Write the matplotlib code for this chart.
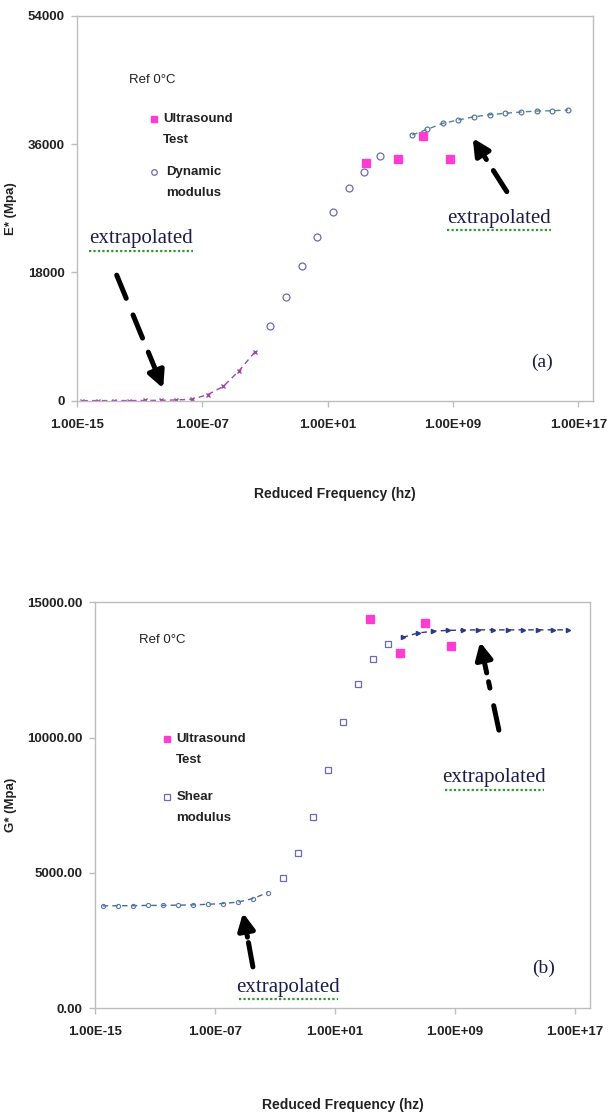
import numpy as np
import matplotlib
matplotlib.use("Agg")
import matplotlib.pyplot as plt
from matplotlib.lines import Line2D

# ── panel (a): E* master curve ───────────────────────────────────────────────
a_lo_freq = [2.2e-15, 2.2e-14, 2.2e-13, 2.2e-12, 2.2e-11, 2.2e-10, 2.2e-9,
             2.2e-8, 2.2e-7, 2.2e-6, 2.2e-5, 2.2e-4]
a_lo_E = [10, 10, 10, 20, 30, 50, 100, 200, 850, 2000, 4200, 6800]
a_dyn_freq = [2.2e-3, 2.2e-2, 0.22, 2.2, 22, 220, 2200, 22000]
a_dyn_E = [10480, 14590, 18890, 22920, 26510, 29790, 32120, 34320]
a_hi_freq = [2.5e6, 2.2e7, 2.2e8, 2.2e9, 2.2e10, 2.2e11, 2.2e12, 2.2e13,
             2.2e14, 2.2e15, 2.2e16]
a_hi_E = [37270, 38060, 38900, 39370, 39830, 40110, 40310, 40490, 40630,
          40670, 40770]
a_us_freq = [2.6e3, 2.9e5, 1.26e7, 6.3e8]
a_us_E = [33290, 33860, 37120, 33900]

# ── panel (b): G* master curve ───────────────────────────────────────────────
b_lo_freq = [3.2e-15, 3.2e-14, 3.2e-13, 3.2e-12, 3.2e-11, 3.2e-10, 3.2e-9,
             3.2e-8, 3.2e-7, 3.2e-6, 3.2e-5, 3.2e-4]
b_lo_G = [3780, 3790, 3790, 3800, 3800, 3810, 3820, 3840, 3870, 3920, 4050,
          4270]
b_sh_freq = [3.2e-3, 3.2e-2, 0.32, 3.2, 32, 320, 3200, 32000]
b_sh_G = [4810, 5740, 7050, 8810, 10570, 11980, 12910, 13440]
b_hi_freq = [3.2e5, 3.2e6, 3.2e7, 3.2e8, 3.2e9, 3.2e10, 3.2e11, 3.2e12,
             3.2e13, 3.2e14, 3.2e15, 3.2e16]
b_hi_G = [13700, 13860, 13930, 13960, 13970, 13980, 13980, 13980, 13980,
          13980, 13980, 13980]
b_us_freq = [2.1e3, 2.1e5, 1.0e7, 5.1e8]
b_us_G = [14370, 13130, 14220, 13400]

x_ticks = [1e-15, 1e-7, 1e1, 1e9, 1e17]
x_ticklabels = ["1.00E-15", "1.00E-07", "1.00E+01", "1.00E+09", "1.00E+17"]
a_yticks = [0, 18000, 36000, 54000]
a_yticklabels = ["0", "18000", "36000", "54000"]
b_yticks = [0, 5000, 10000, 15000]
b_yticklabels = ["0.00", "5000.00", "10000.00", "15000.00"]

PINK = "#FF3CD2"
LAV = "#6A6AB4"
FRAME = "#BDBDBD"
TXT = "#222222"
SANS = "Liberation Sans"
SERIF = "Liberation Serif"

fig = plt.figure(figsize=(6.11, 11.13), dpi=100, facecolor="white")
ax_a = fig.add_axes([0.126, 0.640, 0.8445, 0.3459])
ax_b = fig.add_axes([0.1555, 0.0941, 0.8101, 0.3648])


def style_axes(ax, xmax, yticks, yticklabels, ylim, ylabel, ylab_x, xlab_y):
    ax.set_xscale("log")
    ax.set_xlim(1e-15, xmax)
    ax.set_ylim(*ylim)
    ax.set_xticks(x_ticks)
    ax.set_xticklabels(x_ticklabels)
    ax.xaxis.set_minor_locator(matplotlib.ticker.NullLocator())
    ax.set_yticks(yticks)
    ax.set_yticklabels(yticklabels)
    for s in ax.spines.values():
        s.set_color(FRAME)
        s.set_linewidth(1.0)
    ax.tick_params(axis="both", colors=FRAME, labelcolor=TXT,
                   length=4, width=1.0)
    ax.tick_params(axis="x", pad=9)
    ax.tick_params(axis="y", pad=5)
    for lab in ax.get_xticklabels() + ax.get_yticklabels():
        lab.set_fontfamily(SANS)
        lab.set_fontweight("bold")
        lab.set_fontsize(9.5)
    ax.set_xlabel("Reduced Frequency (hz)", fontfamily=SANS,
                  fontweight="bold", fontsize=10, color=TXT)
    ax.xaxis.set_label_coords(0.5, xlab_y)
    ax.set_ylabel(ylabel, fontfamily=SANS, fontweight="bold", fontsize=9.5,
                  color=TXT)
    ax.yaxis.set_label_coords(ylab_x, 0.5)


def legend_text(ax, x, y, lines, dy):
    for i, s in enumerate(lines):
        ax.text(x, y - i * dy, s, transform=ax.transAxes, ha="left",
                va="center", fontfamily=SANS, fontsize=9.5,
                fontweight="bold", color=TXT)


def extrap_label(ax, x, y):
    ax.text(x, y, "extrapolated", transform=ax.transAxes, ha="center",
            va="center", fontfamily=SERIF, fontsize=15, color="#1C1C48")
    ax.add_line(Line2D([x - 0.1, x + 0.1], [y - 0.03, y - 0.03],
                       transform=ax.transAxes, color="#2E9A2E", lw=1.6,
                       ls=(0, (1, 1))))


def dashed_arrow(ax, tail, tip, head_frac=0.32):
    # dashed shaft, then a gap, then a solid head
    tail = np.array(tail)
    tip = np.array(tip)
    neck = tip + (tail - tip) * head_frac
    gap_end = tip + (tail - tip) * (head_frac + 0.1)
    ax.annotate("", xy=gap_end, xytext=tail, xycoords="axes fraction",
                textcoords="axes fraction",
                arrowprops=dict(arrowstyle="-", lw=3.6, ls=(0, (5, 3.6)),
                                color="black", shrinkA=0, shrinkB=0))
    ax.annotate("", xy=tip, xytext=neck, xycoords="axes fraction",
                textcoords="axes fraction",
                arrowprops=dict(arrowstyle="-|>,head_length=1.0,head_width=0.5",
                                lw=3.6, color="black", shrinkA=0, shrinkB=0))


# ── panel (a) ────────────────────────────────────────────────────────────────
style_axes(ax_a, 8.5e17, a_yticks, a_yticklabels, (0, 54000), "E* (Mpa)",
           -0.117, -0.225)
ax_a.plot(a_lo_freq, a_lo_E, ls=(0, (4, 3)), lw=1.0, color="#A048A8",
          marker="x", ms=3.5, mew=1.0)
ax_a.plot(a_dyn_freq, a_dyn_E, ls="none", marker="o", ms=5, mfc="none",
          mec=LAV, mew=0.9)
ax_a.plot(a_hi_freq, a_hi_E, ls=(0, (4, 3)), lw=1.0, color="#4E8A8C",
          marker="o", ms=3.5, mfc="none", mec="#4E6A9A", mew=0.8)
ax_a.plot(a_us_freq, a_us_E, ls="none", marker="s", ms=6, color=PINK)

ax_a.text(0.145, 0.833, "Ref 0°C", transform=ax_a.transAxes, ha="center",
          va="center", fontfamily=SANS, fontsize=9.5, color=TXT)
ax_a.plot([0.149], [0.731], transform=ax_a.transAxes, ls="none", marker="s",
          ms=5, color=PINK)
legend_text(ax_a, 0.167, 0.731, ["Ultrasound", "Test"], 0.054)
ax_a.plot([0.149], [0.594], transform=ax_a.transAxes, ls="none", marker="o",
          ms=4, mfc="none", mec=LAV, mew=0.9)
legend_text(ax_a, 0.172, 0.594, ["Dynamic", "modulus"], 0.054)

extrap_label(ax_a, 0.124, 0.42)
extrap_label(ax_a, 0.818, 0.474)
dashed_arrow(ax_a, (0.077, 0.326), (0.167, 0.032))
dashed_arrow(ax_a, (0.833, 0.543), (0.767, 0.682), head_frac=0.4)
ax_a.text(0.902, 0.10, "(a)", transform=ax_a.transAxes, ha="center",
          va="center", fontfamily=SERIF, fontsize=14, color="#1C1C48")

# ── panel (b) ────────────────────────────────────────────────────────────────
style_axes(ax_b, 1.0e18, b_yticks, b_yticklabels, (0, 15000), "G* (Mpa)",
           -0.157, -0.22)
ax_b.plot(b_lo_freq, b_lo_G, ls=(0, (4, 3)), lw=1.0, color="#4A6A9C",
          marker="o", ms=3, mfc="none", mec="#5A7AB0", mew=0.8)
ax_b.plot(b_sh_freq, b_sh_G, ls="none", marker="s", ms=5, mfc="none",
          mec=LAV, mew=0.9)
ax_b.plot(b_hi_freq, b_hi_G, ls=(0, (4, 3)), lw=1.0, color="#2A3A8A",
          marker=">", ms=3)
ax_b.plot(b_us_freq, b_us_G, ls="none", marker="s", ms=6, color=PINK)

ax_b.text(0.135, 0.907, "Ref 0°C", transform=ax_b.transAxes, ha="center",
          va="center", fontfamily=SANS, fontsize=9.5, color=TXT)
ax_b.plot([0.145], [0.663], transform=ax_b.transAxes, ls="none", marker="s",
          ms=5, color=PINK)
legend_text(ax_b, 0.164, 0.663, ["Ultrasound", "Test"], 0.052)
ax_b.plot([0.145], [0.520], transform=ax_b.transAxes, ls="none", marker="s",
          ms=4, mfc="none", mec=LAV, mew=0.9)
legend_text(ax_b, 0.164, 0.520, ["Shear", "modulus"], 0.052)

extrap_label(ax_b, 0.39, 0.052)
extrap_label(ax_b, 0.807, 0.568)
dashed_arrow(ax_b, (0.319, 0.102), (0.299, 0.235), head_frac=0.45)
dashed_arrow(ax_b, (0.816, 0.685), (0.778, 0.902), head_frac=0.35)
ax_b.text(0.906, 0.099, "(b)", transform=ax_b.transAxes, ha="center",
          va="center", fontfamily=SERIF, fontsize=14, color="#1C1C48")

fig.savefig("out.png", dpi=100, facecolor="white")
